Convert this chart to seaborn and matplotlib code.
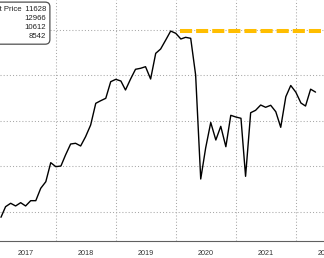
import matplotlib
matplotlib.use("Agg")
import matplotlib.pyplot as plt
import matplotlib.dates as mdates
import matplotlib.transforms as mtransforms
import seaborn as sns
import pandas as pd

# ---- data ----
month_ends = pd.date_range("2017-01-31", periods=64, freq="ME")
prices = [8884, 9116, 9191, 9132, 9204, 9132, 9248, 9248, 9519, 9664, 10081, 9993,
          10008, 10249, 10490, 10506, 10447, 10650, 10907, 11382, 11439, 11492, 11856, 11908,
          11871, 11674, 11915, 12128, 12150, 12185, 11915, 12478, 12573, 12770, 12966, 12917,
          12792, 12829, 12807, 12003, 9723, 10403, 10962, 10578, 10878, 10431, 11119, 11082,
          11054, 9782, 11176, 11229, 11345, 11295, 11339, 11198, 10856, 11527, 11773, 11626,
          11389, 11323, 11692, 11628]
high_value = 12966
high_start = "2020-01-24"
high_end = "2022-08-01"
legend_label = "Last Price"
legend_values = [11628, 12966, 10612, 8542]
year_labels = [2017, 2018, 2019, 2020, 2021, 2022]
grid_values = [9000, 10000, 11000, 12000, 13000]

sns.set_style("white")
plt.rcParams["font.family"] = ["Liberation Sans", "DejaVu Sans"]

fig = plt.figure(figsize=(3.24, 2.58), dpi=100)
ax = fig.add_axes([0, 17 / 258, 1, 241 / 258])

df = pd.DataFrame({"date": month_ends, "price": prices})
sns.lineplot(data=df, x="date", y="price", ax=ax, color="black", lw=1.0, zorder=3)

ax.hlines(high_value, pd.Timestamp(high_start), pd.Timestamp(high_end),
          colors="#FFBE00", lw=2.9, linestyles=[(0, (3, 1))], zorder=2)

ref = mdates.date2num(pd.Timestamp("2018-01-01"))
ax.set_xlim(ref - 56 / 60 * 365.25, ref + 268 / 60 * 365.25)
ax.set_ylim(8364, 13647)
ax.set_xlabel("")
ax.set_ylabel("")

ax.set_yticks(grid_values)
ax.tick_params(axis="y", length=0, labelleft=False)
ax.xaxis.set_major_locator(mdates.YearLocator())
ax.xaxis.set_minor_locator(mdates.MonthLocator(bymonth=[4, 7, 10]))
ax.tick_params(axis="x", which="major", direction="out", length=13, color="#b0b0b0",
               width=0.8, labelbottom=False)
ax.tick_params(axis="x", which="minor", direction="in", length=1.6, color="#808080",
               width=0.8)
ax.grid(True, which="major", axis="both", color="#a8a8a8", lw=0.75, linestyle=(0, (1, 2)))

for s in ["left", "right", "top"]:
    ax.spines[s].set_visible(False)
ax.spines["bottom"].set_color("#606060")
ax.spines["bottom"].set_linewidth(0.8)

trans = mtransforms.blended_transform_factory(ax.transData, ax.transAxes)
for yr in year_labels:
    ax.text(mdates.date2num(pd.Timestamp(f"{yr}-07-02")), -0.05, str(yr),
            transform=trans, ha="center", va="center", fontsize=5.2, color="#333333")

legend_text = "\n".join([f"{legend_label}\u2009 {legend_values[0]}"] + [str(v) for v in legend_values[1:]])
fig.text(46 / 324, 1 - 6 / 258, legend_text, ha="right", va="top", multialignment="right",
         fontsize=5.6, linespacing=1.42, color="#222222", zorder=10,
         bbox=dict(boxstyle="round,pad=0.5,rounding_size=0.6", fc="white", ec="#505050", lw=0.9))

fig.savefig("out.png", dpi=100)
